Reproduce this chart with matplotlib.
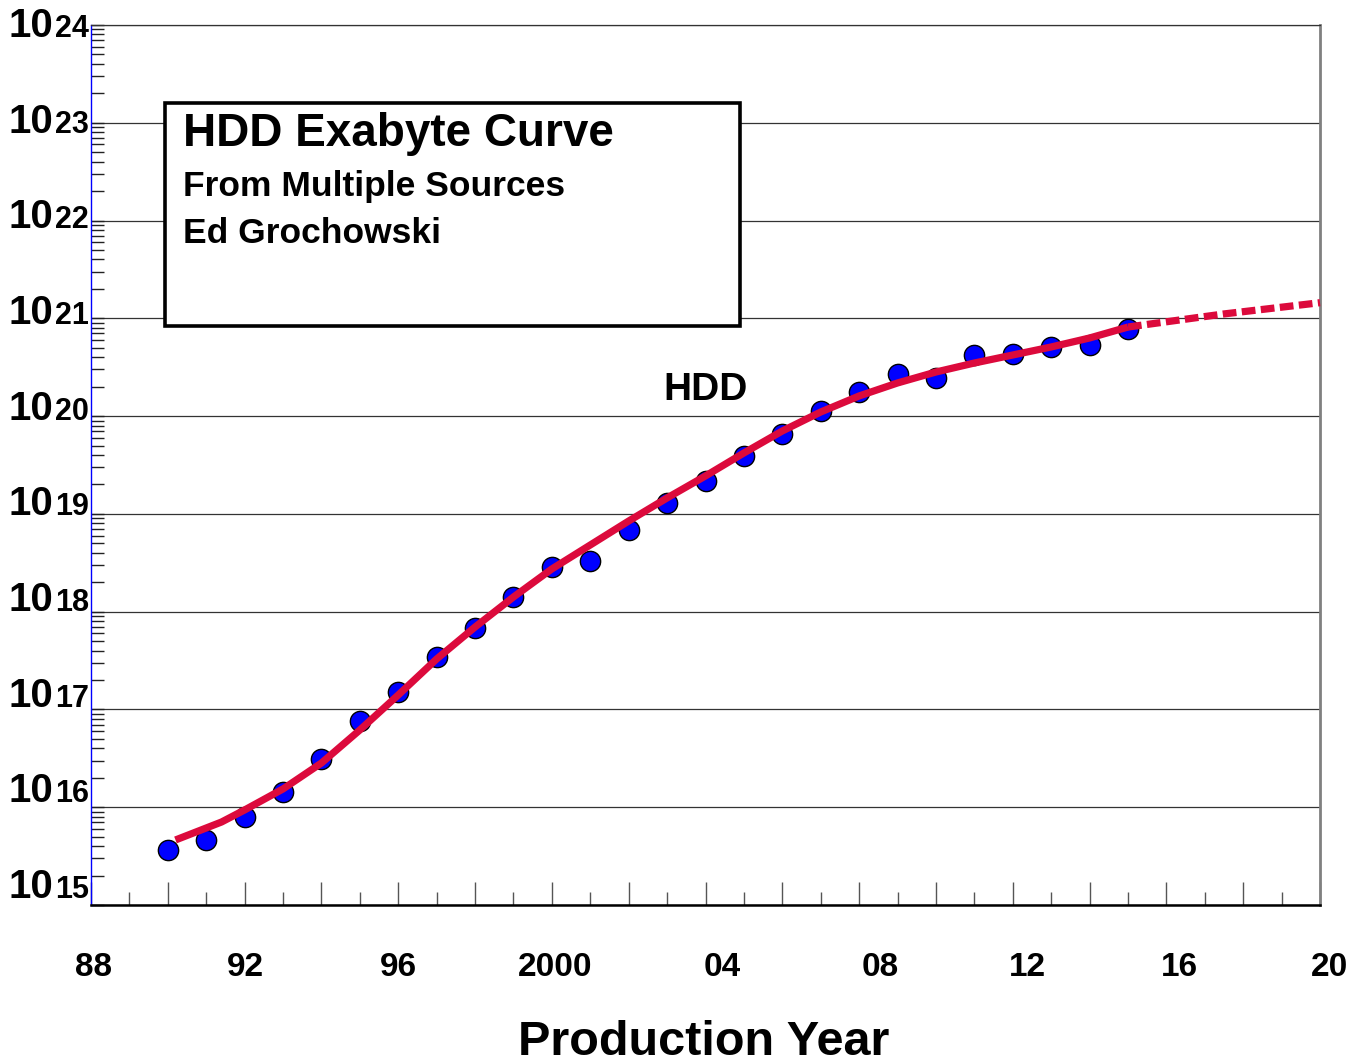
import numpy as np
import matplotlib
matplotlib.use('Agg')
import matplotlib.pyplot as plt
from matplotlib.patches import Rectangle
from matplotlib.ticker import MultipleLocator, LogLocator, NullFormatter

plt.rcParams['font.family'] = ['Liberation Sans', 'DejaVu Sans']
plt.rcParams['font.weight'] = 'bold'

# shipped HDD capacity, log10(bytes)
years = np.arange(1990, 2016)
hdd_log = [15.56, 15.66, 15.90, 16.16, 16.49, 16.88, 17.18, 17.54, 17.83, 18.15,
           18.46, 18.52, 18.84, 19.11, 19.34, 19.59, 19.82, 20.05, 20.25, 20.43,
           20.39, 20.62, 20.64, 20.71, 20.73, 20.89]

# smoothed trend and the projection past 2015
fit_years = [1990.2, 1991.4, 1992, 1993, 1994, 1995, 1996, 1997, 1998, 1999, 2000,
             2001, 2002, 2003, 2004, 2005, 2006, 2007, 2008, 2009, 2010, 2011,
             2012, 2013, 2014, 2015]
fit_log = [15.665, 15.849, 15.972, 16.187, 16.452, 16.790, 17.148, 17.516, 17.843,
           18.150, 18.437, 18.682, 18.927, 19.163, 19.388, 19.623, 19.848, 20.042,
           20.206, 20.339, 20.451, 20.543, 20.625, 20.707, 20.799, 20.911]
proj_years = [2015.0, 2017.5, 2020.0]
proj_log = [20.911, 21.045, 21.16]

decades = list(range(15, 25))
label_years = [1988, 1992, 1996, 2000, 2004, 2008, 2012, 2016, 2020]
label_text = ['88', '92', '96', '2000', '04', '08', '12', '16', '20']
label_nudge = [2, 1, 0, 3, 17, 21, 15, 13, 10]   # px, hand placed labels

PX = 72 / 100.0
red = '#DC0A3C'

fig = plt.figure(figsize=(13.64, 10.63), dpi=100)
ax = fig.add_axes([91 / 1364, 158 / 1063, 1229 / 1364, 880 / 1063])
ax.set_yscale('log')
ax.set_xlim(1988, 2020)
ax.set_ylim(1e15, 1e24)

ax.plot(years, 10.0 ** np.array(hdd_log), 'o', ms=14.6, mfc='#0000FF', mec='black',
        mew=1.0, zorder=3, clip_on=False)
ax.plot(fit_years, 10.0 ** np.array(fit_log), color=red, lw=5.2,
        solid_capstyle='butt', solid_joinstyle='round', zorder=4)
ax.plot(proj_years, 10.0 ** np.array(proj_log), color=red, lw=5.2,
        linestyle=(0, (1.9, 0.75)), dash_capstyle='butt', zorder=4, clip_on=False)

ax.text(2004, 10 ** 20.27, 'HDD', fontsize=28, ha='center', va='center')

# ticks
ax.xaxis.set_major_locator(MultipleLocator(2))
ax.xaxis.set_minor_locator(MultipleLocator(1))
ax.yaxis.set_major_locator(LogLocator(base=10, numticks=20))
ax.yaxis.set_minor_locator(LogLocator(base=10, subs=np.arange(2, 10), numticks=20))
ax.xaxis.set_major_formatter(NullFormatter())
ax.xaxis.set_minor_formatter(NullFormatter())
ax.yaxis.set_major_formatter(NullFormatter())
ax.yaxis.set_minor_formatter(NullFormatter())
ax.tick_params(axis='x', which='major', direction='in', length=23 * PX, width=1.0,
               color='#555555', top=False)
ax.tick_params(axis='x', which='minor', direction='in', length=13 * PX, width=1.0,
               color='#555555', top=False)
ax.tick_params(axis='y', which='both', direction='in', length=13 * PX, width=1.0,
               color='#222222', right=False)

ax.yaxis.grid(True, which='major', color='#333333', lw=0.9)
ax.set_axisbelow(True)

ax.spines['left'].set_color('#0000FF')
ax.spines['left'].set_linewidth(1.0)
ax.spines['right'].set_color('#808080')
ax.spines['right'].set_linewidth(2.0)
ax.spines['top'].set_color('#333333')
ax.spines['top'].set_linewidth(0.9)
ax.spines['bottom'].set_color('black')
ax.spines['bottom'].set_linewidth(1.8)

# y labels: "10" with the exponent at the same baseline
for k in decades:
    down = -7 + (k - 15) * 19 / 9.0
    ax.annotate('10', xy=(0, 10.0 ** k), xycoords=('axes fraction', 'data'),
                xytext=(-38 * PX, -down * PX), textcoords='offset points',
                ha='right', va='baseline', fontsize=29, fontweight='bold')
    ax.annotate(str(k), xy=(0, 10.0 ** k), xycoords=('axes fraction', 'data'),
                xytext=(-36 * PX, -down * PX), textcoords='offset points',
                ha='left', va='baseline', fontsize=22, fontweight='bold')

for yr, txt, dx in zip(label_years, label_text, label_nudge):
    ax.annotate(txt, xy=(yr, 0), xycoords=('data', 'axes fraction'),
                xytext=(dx * PX, -62 * PX), textcoords='offset points',
                ha='center', va='center', fontsize=24, fontweight='bold')

fig.text(704 / 1364, 1 - 1055 / 1063, 'Production Year', fontsize=35,
         fontweight='bold', ha='center', va='baseline')

# title box
box = Rectangle((0.0602, 0.658), 0.468, 0.2534, transform=ax.transAxes,
                fill=True, facecolor='white', edgecolor='black', lw=2.6, zorder=5)
ax.add_patch(box)
ax.text(0.0748, 1 - (146 - 25) / 880, 'HDD Exabyte Curve', transform=ax.transAxes,
        fontsize=33, fontweight='bold', va='baseline', zorder=6)
ax.text(0.0748, 1 - (196 - 25) / 880, 'From Multiple Sources', transform=ax.transAxes,
        fontsize=25.5, fontweight='bold', va='baseline', zorder=6)
ax.text(0.0748, 1 - (243 - 25) / 880, 'Ed Grochowski', transform=ax.transAxes,
        fontsize=25.5, fontweight='bold', va='baseline', zorder=6)

fig.savefig('out.png', dpi=100)
